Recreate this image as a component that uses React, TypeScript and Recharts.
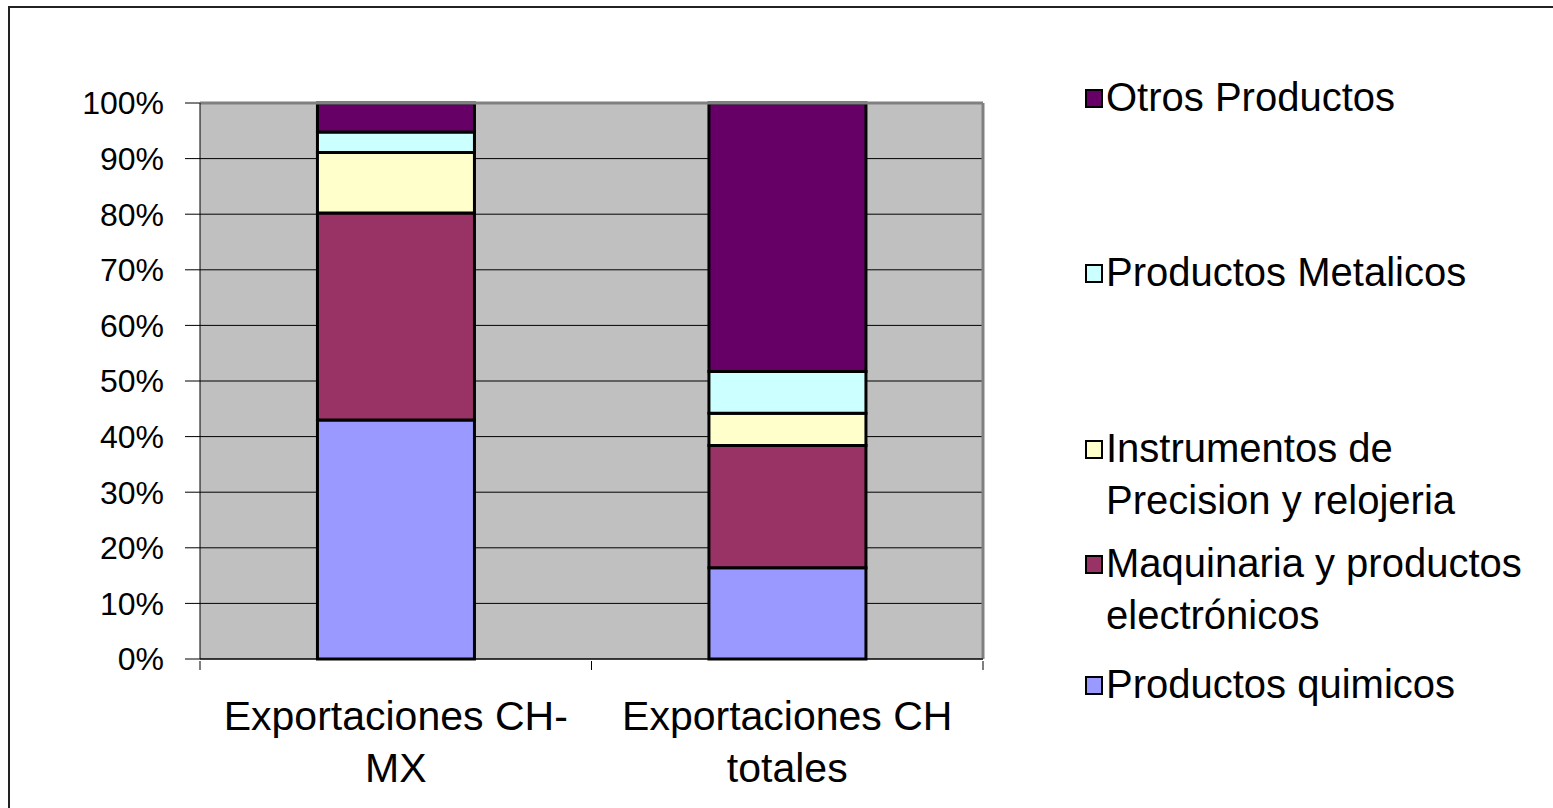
import React from "react";
import { BarChart, Bar, XAxis, YAxis, CartesianGrid, ReferenceLine } from "recharts";

const categories = [
  ["Exportaciones CH-", "MX"],
  ["Exportaciones CH", "totales"],
];
const yTicks = [0, 10, 20, 30, 40, 50, 60, 70, 80, 90, 100];

const quimicos = [43.0, 16.4];
const maquinaria = [37.2, 22.0];
const instrumentos = [10.9, 5.8];
const metalicos = [3.7, 7.5];
const otros = [5.2, 48.3];

const series = [
  { key: "quimicos", label: ["Productos quimicos"], values: quimicos, color: "#9999FF" },
  { key: "maquinaria", label: ["Maquinaria y productos", "electrónicos"], values: maquinaria, color: "#993366" },
  { key: "instrumentos", label: ["Instrumentos de", "Precision y relojeria"], values: instrumentos, color: "#FFFFCC" },
  { key: "metalicos", label: ["Productos Metalicos"], values: metalicos, color: "#CCFFFF" },
  { key: "otros", label: ["Otros Productos"], values: otros, color: "#660066" },
];

const data = categories.map((lines, i) => {
  const row: Record<string, any> = { name: lines.join(" ") };
  series.forEach((s) => (row[s.key] = s.values[i]));
  return row;
});

const FONT = "'Liberation Sans', Arial, sans-serif";

// legend rows, top to bottom (first-line centre y)
const legendTops = [97, 272, 448, 563, 684];

const CategoryTick = (props: any) => {
  const { x, y, index, payload } = props;
  const lines = categories[index] || [];
  const half = payload && payload.offset ? payload.offset : 195.75;
  const axisY = y - 2;
  return (
    <g>
      <line x1={x - half} y1={axisY} x2={x - half} y2={axisY + 9} stroke="#000" />
      {index === categories.length - 1 && (
        <line x1={x + half} y1={axisY} x2={x + half} y2={axisY + 9} stroke="#000" />
      )}
      <text x={x} y={y} textAnchor="middle" fontSize={41} fontFamily={FONT} fill="#000">
        {lines.map((l, i) => (
          <tspan key={i} x={x} dy={i === 0 ? 67 : 52}>
            {l}
          </tspan>
        ))}
      </text>
    </g>
  );
};

const App = () => {
  const legendItems = [...series].reverse();
  return (
    <div style={{ position: "absolute", left: 0, top: 0, width: 1553, height: 808, background: "#fff", overflow: "hidden" }}>
      <div
        style={{
          position: "absolute",
          left: 8,
          top: 6,
          width: 1600,
          height: 900,
          borderTop: "2px solid #222",
          borderLeft: "2px solid #222",
        }}
      />
      <div style={{ position: "absolute", left: 0, top: 0 }}>
        <BarChart
          width={1553}
          height={808}
          data={data}
          barCategoryGap="30%"
          margin={{ top: 103, right: 570, bottom: 20, left: 100 }}
        >
          <CartesianGrid horizontal vertical={false} stroke="#000" fill="#C0C0C0" />
          <CartesianGrid horizontal={false} verticalPoints={[983]} stroke="#808080" strokeWidth={3} />
          <ReferenceLine y={100} stroke="#808080" strokeWidth={3} />
          <XAxis
            dataKey="name"
            height={129}
            axisLine={{ stroke: "#000" }}
            tickLine={false}
            tickSize={2}
            interval={0}
            tick={<CategoryTick />}
          />
          <YAxis
            type="number"
            domain={[0, 100]}
            ticks={yTicks}
            width={100}
            tickFormatter={(v) => `${v}%`}
            axisLine={{ stroke: "#000" }}
            tickLine={{ stroke: "#000" }}
            tickSize={15}
            tickMargin={21}
            tick={{ fontSize: 32, fontFamily: FONT, fill: "#000" }}
          />
          {series.map((s) => (
            <Bar
              key={s.key}
              dataKey={s.key}
              stackId="a"
              fill={s.color}
              stroke="#000"
              strokeWidth={3}
              isAnimationActive={false}
            />
          ))}
        </BarChart>
      </div>
      {legendItems.map((s, i) => (
        <div
          key={s.key}
          style={{
            position: "absolute",
            left: 1085,
            top: legendTops[i] - 26,
            fontFamily: FONT,
            fontSize: 40,
            lineHeight: "52px",
            color: "#000",
          }}
        >
          <span
            style={{
              position: "absolute",
              left: 0,
              top: 18,
              width: 14,
              height: 15,
              background: s.color,
              border: "2px solid #000",
            }}
          />
          <div style={{ marginLeft: 21 }}>
            {s.label.map((l, j) => (
              <div key={j} style={{ whiteSpace: "nowrap" }}>
                {l}
              </div>
            ))}
          </div>
        </div>
      ))}
    </div>
  );
};

export default App;
